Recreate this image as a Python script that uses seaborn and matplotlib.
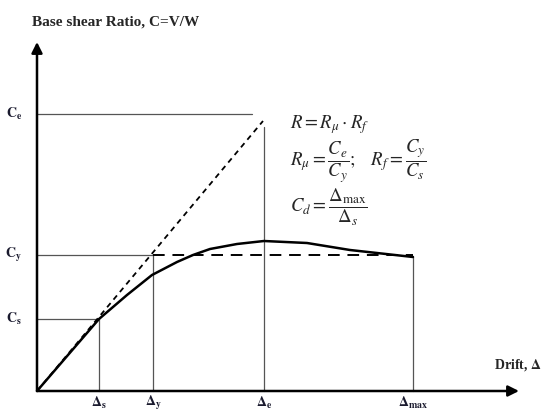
import matplotlib
matplotlib.use('Agg')
import matplotlib.pyplot as plt
import seaborn as sns

# Characteristic drifts and base shear levels
DRIFT_S, DRIFT_Y, DRIFT_E, DRIFT_MAX = 0.62, 1.16, 2.27, 3.76
C_S, C_Y, C_E = 0.72, 1.36, 2.77

# Actual pushover response curve
curve_drift = [0.0, 0.62, 0.90, 1.15, 1.40, 1.56, 1.73, 2.00, 2.27, 2.70, 3.13, 3.76]
curve_shear = [0.0, 0.72, 0.96, 1.16, 1.29, 1.36, 1.42, 1.47, 1.50, 1.48, 1.41, 1.34]

# Elastic response line and idealised bilinear plateau
elastic_drift = [0.0, 2.26]
elastic_shear = [0.0, 2.70]
plateau_drift = [DRIFT_Y, DRIFT_MAX]
plateau_shear = [C_Y, C_Y]

sns.set_style('white')
plt.rcParams['font.family'] = ['Liberation Serif', 'DejaVu Serif']
plt.rcParams['mathtext.fontset'] = 'stix'

fig = plt.figure(figsize=(5.44, 4.12), dpi=100)
ax = fig.add_axes([0, 0, 1, 1])
ax.set_xlim(-0.37, 5.07)
ax.set_ylim(-0.21, 3.91)
ax.axis('off')

thin = dict(color='#555555', lw=0.9)
# reference lines
ax.plot([0, DRIFT_S], [C_S, C_S], **thin)
ax.plot([DRIFT_S, DRIFT_S], [0, C_S], **thin)
ax.plot([0, DRIFT_Y], [C_Y, C_Y], **thin)
ax.plot([DRIFT_Y, DRIFT_Y], [0, C_Y], **thin)
ax.plot([0, 2.15], [C_E, C_E], **thin)
ax.plot([DRIFT_E, DRIFT_E], [0, 2.64], **thin)
ax.plot([DRIFT_MAX, DRIFT_MAX], [0, 1.34], **thin)

sns.lineplot(x=elastic_drift, y=elastic_shear, ax=ax, color='black', lw=1.3,
             linestyle=(0, (3, 2.5)), sort=False)
sns.lineplot(x=plateau_drift, y=plateau_shear, ax=ax, color='black', lw=1.4,
             linestyle=(0, (6, 4)), sort=False)
sns.lineplot(x=curve_drift, y=curve_shear, ax=ax, color='black', lw=1.8,
             sort=False)

# axes with arrows
arrow = dict(arrowstyle='-|>', lw=1.8, color='black', mutation_scale=16,
             shrinkA=0, shrinkB=0)
ax.annotate('', xy=(4.82, 0), xytext=(0, 0), arrowprops=arrow)
ax.annotate('', xy=(0, 3.49), xytext=(0, 0), arrowprops=arrow)

ax.text(-0.05, 3.69, 'Base shear Ratio, C=V/W', fontsize=11, fontweight='bold',
        ha='left', va='center')
ax.text(4.57, 0.26, r'Drift, $\mathbf{\Delta}$', fontsize=10, fontweight='bold',
        ha='left', va='center')

for lab, yv in [(r'$\mathbf{C_e}$', C_E), (r'$\mathbf{C_y}$', C_Y), (r'$\mathbf{C_s}$', C_S)]:
    ax.text(-0.15, yv, lab, fontsize=10, ha='right', va='center', color='#1a1a2e')

for lab, xv in [(r'$\mathbf{\Delta_s}$', DRIFT_S), (r'$\mathbf{\Delta_y}$', DRIFT_Y),
                (r'$\mathbf{\Delta_e}$', DRIFT_E), (r'$\mathbf{\Delta_{max}}$', DRIFT_MAX)]:
    ax.text(xv, -0.12, lab, fontsize=10, ha='center', va='center', color='#1a1a2e')

eq = dict(fontsize=13.5, ha='left', va='center')
ax.text(2.53, 2.66, r'$R=R_{\mu}\cdot R_{f}$', **eq)
ax.text(2.53, 2.30, r'$R_{\mu}=\dfrac{C_e}{C_y};\quad R_f=\dfrac{C_y}{C_s}$', **eq)
ax.text(2.53, 1.84, r'$C_d=\dfrac{\Delta_{\max}}{\Delta_s}$', **eq)

fig.savefig('out.png', dpi=100)
